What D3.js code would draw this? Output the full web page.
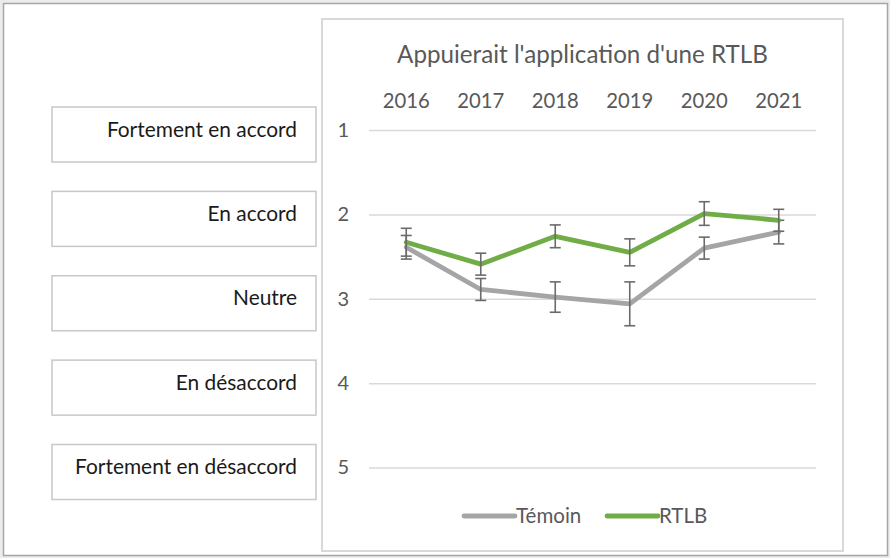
<!DOCTYPE html>
<html><head><meta charset="utf-8">
<script src="https://cdn.jsdelivr.net/npm/d3@7"></script>
<style>
html,body{margin:0;padding:0;background:#ececec;}
svg{display:block;}
text{font-family:Lato,"Open Sans",sans-serif;}
</style></head>
<body>
<svg id="chart" width="890" height="558"></svg>
<script>
const years = ["2016","2017","2018","2019","2020","2021"];
const temoin = [2.39, 2.89, 2.98, 3.06, 2.40, 2.21];
const temoinErr = [0.14, 0.13, 0.18, 0.26, 0.13, 0.14];
const rtlb = [2.33, 2.59, 2.26, 2.45, 1.99, 2.07];
const rtlbErr = [0.165, 0.13, 0.135, 0.16, 0.14, 0.13];
const yTicks = [1, 2, 3, 4, 5];
const scaleLabels = ["Fortement en accord","En accord","Neutre","En désaccord","Fortement en désaccord"];
const title = "Appuierait l'application d'une RTLB";
const seriesNames = ["Témoin","RTLB"];

const svg = d3.select("#chart");
svg.append("rect").attr("x",3.5).attr("y",3.5).attr("width",884).attr("height",552)
  .attr("fill","#fff").attr("stroke","#a6a6a6").attr("stroke-width",1.5);
// chart panel
svg.append("rect").attr("x",322).attr("y",19).attr("width",521).attr("height",532)
  .attr("fill","#fff").attr("stroke","#d9d9d9").attr("stroke-width",2);

const x = d3.scaleBand().domain(years).range([369,816]);
const y = d3.scaleLinear().domain([1,5]).range([130,467.5]);
const cx = d => x(d) + x.bandwidth()/2;

// title
svg.append("text").attr("x",582.5).attr("y",63).attr("text-anchor","middle")
  .attr("font-size",24.2).attr("fill","#595959").text(title);

// y axis with gridlines
const yAxis = svg.append("g").attr("transform","translate(369,0)")
  .call(d3.axisLeft(y).tickValues(yTicks).tickSize(-447).tickPadding(20).tickFormat(d3.format("d")));
yAxis.select(".domain").remove();
yAxis.selectAll(".tick line").attr("stroke","#d9d9d9").attr("stroke-width",1.5);
yAxis.selectAll(".tick text").attr("font-size",20).attr("fill","#595959").attr("font-family","Lato");

// x axis on top
const xAxis = svg.append("g").attr("transform","translate(0,108)")
  .call(d3.axisTop(x).tickSize(0).tickPadding(0));
xAxis.select(".domain").remove();
xAxis.selectAll(".tick text").attr("font-size",20.3).attr("fill","#595959").attr("font-family","Lato");

// left label boxes
const boxes = svg.append("g");
scaleLabels.forEach((lab,i)=>{
  const yc = y(yTicks[i]) + 4.5;
  boxes.append("rect").attr("x",52).attr("y",yc-27.5).attr("width",264).attr("height",55)
    .attr("fill","#fff").attr("stroke","#c8c8c8").attr("stroke-width",1.5);
  boxes.append("text").attr("x",297).attr("y",yc+2).attr("text-anchor","end")
    .attr("font-size",20.9).attr("fill","#1a1a1a").text(lab);
});

const line = d3.line().x((d,i)=>cx(years[i])).y(d=>y(d));
function drawSeries(vals, errs, color){
  svg.append("path").datum(vals).attr("d",line).attr("fill","none")
    .attr("stroke",color).attr("stroke-width",4.8).attr("stroke-linejoin","round").attr("stroke-linecap","round");
  const g = svg.append("g").attr("stroke","#6b6b6b").attr("stroke-width",1.6);
  vals.forEach((v,i)=>{
    const X = cx(years[i]);
    g.append("line").attr("x1",X).attr("x2",X).attr("y1",y(v-errs[i])).attr("y2",y(v+errs[i]));
    g.append("line").attr("x1",X-5.5).attr("x2",X+5.5).attr("y1",y(v-errs[i])).attr("y2",y(v-errs[i]));
    g.append("line").attr("x1",X-5.5).attr("x2",X+5.5).attr("y1",y(v+errs[i])).attr("y2",y(v+errs[i]));
  });
}
drawSeries(temoin, temoinErr, "#a5a5a5");
drawSeries(rtlb, rtlbErr, "#70ad47");

// legend
const legend = svg.append("g");
const legItems = [{name:seriesNames[0],color:"#a5a5a5",x:464},{name:seriesNames[1],color:"#70ad47",x:607}];
legItems.forEach(it=>{
  legend.append("line").attr("x1",it.x).attr("x2",it.x+51).attr("y1",516).attr("y2",516)
    .attr("stroke",it.color).attr("stroke-width",4.8).attr("stroke-linecap","round");
  legend.append("text").attr("x",it.x+52).attr("y",523).attr("font-size",20.5).attr("fill","#595959").text(it.name);
});
</script>
</body></html>
